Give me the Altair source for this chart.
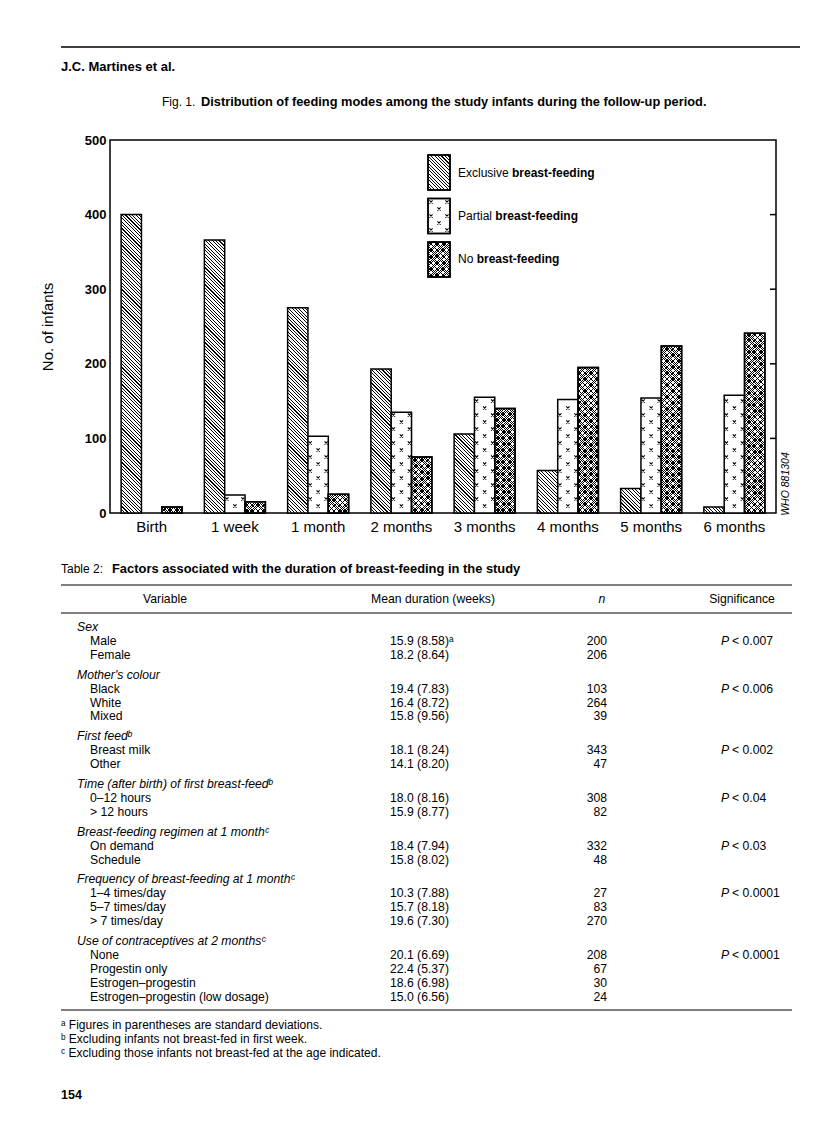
import altair as alt

# ---------------- data ----------------
TIMES = ["Birth", "1 week", "1 month", "2 months", "3 months", "4 months", "5 months", "6 months"]
SERIES = ["Exclusive breast-feeding", "Partial breast-feeding", "No breast-feeding"]
LEGEND_PREFIX = ["Exclusive", "Partial", "No"]
LEGEND_SUFFIX = "breast-feeding"
EXCLUSIVE = [400, 366, 275, 193, 106, 57, 33, 8]
PARTIAL = [0, 24, 103, 135, 155, 152, 154, 158]
NO_BF = [8, 15, 25, 75, 140, 195, 224, 241]
Y_TICKS = [0, 100, 200, 300, 400, 500]
RIGHT_TICKS = [100, 200, 300, 400]

VARIABLES = ["Sex", "Mother's colour", "First feed\u1d47",
             "Time (after birth) of first breast-feed\u1d47",
             "Breast-feeding regimen at 1 month\u1d9c",
             "Frequency of breast-feeding at 1 month\u1d9c",
             "Use of contraceptives at 2 months\u1d9c"]
LEVELS = ["Male", "Female", "Black", "White", "Mixed", "Breast milk", "Other",
          "0\u201312 hours", "> 12 hours", "On demand", "Schedule",
          "1\u20134 times/day", "5\u20137 times/day", "> 7 times/day",
          "None", "Progestin only", "Estrogen\u2013progestin",
          "Estrogen\u2013progestin (low dosage)"]
LEVEL_GROUP = [0, 0, 1, 1, 1, 2, 2, 3, 3, 4, 4, 5, 5, 5, 6, 6, 6, 6]
MEANS = ["15.9 (8.58)\u1d43", "18.2 (8.64)", "19.4 (7.83)", "16.4 (8.72)", "15.8 (9.56)",
         "18.1 (8.24)", "14.1 (8.20)", "18.0 (8.16)", "15.9 (8.77)", "18.4 (7.94)",
         "15.8 (8.02)", "10.3 (7.88)", "15.7 (8.18)", "19.6 (7.30)", "20.1 (6.69)",
         "22.4 (5.37)", "18.6 (6.98)", "15.0 (6.56)"]
NS = [200, 206, 103, 264, 39, 343, 47, 308, 82, 332, 48, 27, 83, 270, 208, 67, 30, 24]
SIGNIFICANCE = ["< 0.007", "< 0.006", "< 0.002", "< 0.04", "< 0.03", "< 0.0001", "< 0.0001"]
FOOTNOTES = ["\u1d43 Figures in parentheses are standard deviations.",
             "\u1d47 Excluding infants not breast-fed in first week.",
             "\u1d9c Excluding those infants not breast-fed at the age indicated."]

# ---------------- layout / style ----------------
FONT = "Liberation Sans"
X0, Y0 = 110, 140          # page position of the plot area
PW, PH = 666, 373
YMAX = 500
PAD_INNER = 0.267
STEP = PW / len(TIMES)
BAR_W = STEP * (1 - PAD_INNER) / 3
PX_PER_UNIT = PH / YMAX


def px(x):
    return x - X0


def py(y):
    return y - Y0


def stripes(w, h, period, frac, direction, dark="#000000", light="#ffffff"):
    """Linear gradient with hard stops that draws 45-degree hatching."""
    n = max(1, int(round((w + h) / period)))
    k = (w + h) / (w * w + h * h)
    if direction == "back":
        g = {"gradient": "linear", "x1": 0, "y1": 1, "x2": k * w, "y2": 1 - k * h}
    else:
        g = {"gradient": "linear", "x1": 0, "y1": 0, "x2": k * w, "y2": k * h}
    stops = []
    for i in range(n):
        a, b, c = i / n, (i + frac) / n, (i + 1) / n
        stops += [{"offset": a, "color": dark}, {"offset": b, "color": dark},
                  {"offset": b, "color": light}, {"offset": c, "color": light}]
    g["stops"] = stops
    return g


CLEAR = "rgba(0,0,0,0)"


def fills(series_index, w, h):
    if series_index == 0:
        return stripes(w, h, 3.4, 0.33, "back"), CLEAR
    if series_index == 1:
        return "#ffffff", CLEAR
    return (stripes(w, h, 2.4, 0.3, "fwd"),
            stripes(w, h, 2.4, 0.3, "back", light=CLEAR))


def cross_path(offsets, r=1.6):
    """SVG path of small x-shaped crosses (symbol size 4 -> 1 unit = 1 px)."""
    parts = []
    for cx, cy in offsets:
        parts.append(f"M{cx - r:.2f},{cy - r:.2f}L{cx + r:.2f},{cy + r:.2f}"
                     f"M{cx + r:.2f},{cy - r:.2f}L{cx - r:.2f},{cy + r:.2f}")
    return "".join(parts)


bar_rows = []
for s_i, (series, vals) in enumerate(zip(SERIES, [EXCLUSIVE, PARTIAL, NO_BF])):
    for t, v in zip(TIMES, vals):
        f1, f2 = fills(s_i, BAR_W, v * PX_PER_UNIT)
        bar_rows.append({"time": t, "series": series, "value": v, "fill": f1, "fill2": f2})

# ---------------- bar chart ----------------
x_scale = alt.Scale(domain=TIMES, paddingInner=PAD_INNER, paddingOuter=PAD_INNER / 2)
xo_scale = alt.Scale(domain=SERIES, paddingInner=0, paddingOuter=0)
y_scale = alt.Scale(domain=[0, YMAX], nice=False, zero=True)
x_axis = alt.Axis(title=None, labelAngle=0, labelFont=FONT, labelFontSize=15,
                  labelColor="black", labelPadding=6, ticks=False, domain=False, grid=False)
y_axis = alt.Axis(values=Y_TICKS, format="d", title="No. of infants", titleFont=FONT,
                  titleFontSize=15, titleFontWeight="normal", titleColor="black",
                  titleX=-63, titleY=PH / 2, titleAngle=270, titleAlign="center",
                  titleBaseline="middle", labelFont=FONT, labelFontSize=13,
                  labelFontWeight="bold", labelColor="black", labelPadding=4,
                  labelFlush=False, labelOverlap=False, ticks=False, domain=False, grid=False)
x_enc = alt.X("time:N", scale=x_scale, axis=x_axis)
xo_enc = alt.XOffset("series:N", scale=xo_scale)

bar_src = alt.Chart(alt.Data(values=bar_rows))
bars = bar_src.transform_filter("datum.value > 0").mark_bar(
    stroke="black", strokeWidth=1.5).encode(
    x=x_enc, xOffset=xo_enc, y=alt.Y("value:Q", scale=y_scale, axis=y_axis),
    fill=alt.Fill("fill:N", scale=None))
bars_overlay = bar_src.transform_filter(
    f"datum.value > 0 && datum.series === '{SERIES[2]}'").mark_bar(
    stroke="black", strokeWidth=1.5).encode(
    x=x_enc, xOffset=xo_enc, y=alt.Y("value:Q", scale=y_scale, axis=y_axis),
    fill=alt.Fill("fill2:N", scale=None))

STEP_U = 14 / PX_PER_UNIT


def cross_layer(start, offsets):
    return bar_src.transform_filter(
        f"datum.value > 0 && datum.series === '{SERIES[1]}'").transform_calculate(
        ys=f"sequence({start:.3f}, datum.value - 2, {STEP_U:.3f})").transform_flatten(
        ["ys"]).mark_point(shape=cross_path(offsets), size=4, filled=False,
                           stroke="black", strokeWidth=1.1, opacity=1).encode(
        x=x_enc, xOffset=xo_enc, y=alt.Y("ys:Q", scale=y_scale, axis=y_axis))


crosses = [cross_layer(STEP_U / 2, [(0, 0)]), cross_layer(STEP_U, [(-8, 0), (8, 0)])]

right_ticks = alt.Chart(alt.Data(values=[{"value": v} for v in RIGHT_TICKS])).mark_rule(
    color="black", strokeWidth=1.5).encode(
    y=alt.Y("value:Q", scale=y_scale, axis=y_axis), x=alt.value(PW - 6), x2=alt.value(PW))

bar_group = alt.layer(bars, bars_overlay, *crosses, right_ticks)

# ---------------- legend ----------------
LEG_W, LEG_H = 22, 35
legend_rows = []
for i, s in enumerate(SERIES):
    f1, f2 = fills(i, LEG_W, LEG_H)
    legend_rows.append({"series": s, "prefix": LEGEND_PREFIX[i], "suffix": LEGEND_SUFFIX,
                        "fill": f1, "fill2": f2})
PREFIX_W = [54.0, 37.3, 18.7]
leg_y = alt.Y("series:N", scale=alt.Scale(domain=SERIES, range=[15, 137],
                                          paddingInner=0.195, paddingOuter=0), axis=None)
leg_src = alt.Chart(alt.Data(values=legend_rows))
LEG_CROSSES = [(-8, -14), (8, -14), (0, -7), (-8, 0), (8, 0), (0, 7), (-8, 14), (8, 14)]
leg_layers = [
    leg_src.mark_rect(stroke="black", strokeWidth=1.5).encode(
        x=alt.value(px(428)), x2=alt.value(px(450)), y=leg_y, fill=alt.Fill("fill:N", scale=None)),
    leg_src.mark_rect(stroke="black", strokeWidth=1.5).encode(
        x=alt.value(px(428)), x2=alt.value(px(450)), y=leg_y, fill=alt.Fill("fill2:N", scale=None)),
    leg_src.transform_filter(f"datum.series === '{SERIES[1]}'").mark_point(
        shape=cross_path(LEG_CROSSES), size=4, filled=False, stroke="black",
        strokeWidth=1.1, opacity=1).encode(x=alt.value(px(439)), y=leg_y),
    leg_src.mark_text(align="left", baseline="middle", font=FONT, fontSize=12, color="black").encode(
        x=alt.value(px(458)), y=leg_y, text="prefix:N"),
]
for i, s in enumerate(SERIES):
    leg_layers.append(leg_src.transform_filter(f"datum.series === '{s}'").mark_text(
        align="left", baseline="middle", font=FONT, fontSize=12, fontWeight="bold",
        color="black").encode(x=alt.value(px(458) + PREFIX_W[i]), y=leg_y, text="suffix:N"))
legend = alt.layer(*leg_layers)


# ---------------- page text helpers ----------------
def txt(text, x, y, size=12.2, weight="normal", style="normal", align="left", angle=0):
    return alt.Chart(alt.Data(values=[{"t": text}])).mark_text(
        font=FONT, fontSize=size, fontWeight=weight, fontStyle=style, align=align,
        baseline="middle", color="black", angle=angle).encode(
        x=alt.value(px(x)), y=alt.value(py(y)), text="t:N")


def hrule(x1, x2, y, w=1.2):
    return alt.Chart(alt.Data(values=[{"k": 0}])).mark_rule(color="black", strokeWidth=w).encode(
        x=alt.value(px(x1)), x2=alt.value(px(x2)), y=alt.value(py(y)))


page_items = [
    hrule(61, 800, 47, 1.6),
    txt("J.C. Martines et al.", 61, 67, size=13, weight="bold"),
    txt("Fig. 1.", 162, 102, size=12),
    txt("Distribution of feeding modes among the study infants during the follow-up period.",
        201, 102, size=12.8, weight="bold"),
    txt("WHO  881304", 786, 484, size=10.5, style="italic", align="center", angle=270),
    txt("Table 2:", 61, 569, size=12),
    txt("Factors associated with the duration of breast-feeding in the study", 112, 569,
        size=12.9, weight="bold"),
    hrule(61, 792, 585),
    txt("Variable", 165, 599, align="center"),
    txt("Mean duration (weeks)", 433, 599, align="center"),
    txt("n", 602, 599, style="italic", align="center"),
    txt("Significance", 742, 599, align="center"),
    hrule(61, 792, 613),
    hrule(61, 792, 1010),
    txt(FOOTNOTES[0], 61, 1025, size=12),
    txt(FOOTNOTES[1], 61, 1039, size=12),
    txt(FOOTNOTES[2], 61, 1053, size=12),
    txt("154", 61, 1095, size=12.5, weight="bold"),
]

# ---------------- table body ----------------
head_rows, item_rows = [], []
r = 0
for g, var in enumerate(VARIABLES):
    head_rows.append({"label": var, "r": r, "g": g})
    r += 1
    first = True
    for i, lev in enumerate(LEVELS):
        if LEVEL_GROUP[i] != g:
            continue
        item_rows.append({"label": lev, "mean": MEANS[i], "n": str(NS[i]),
                          "p": "P" if first else "", "sig": SIGNIFICANCE[g] if first else "",
                          "r": r, "g": g})
        r += 1
        first = False
N_ROWS = r - 1
ROW_H, GROUP_GAP = 13.9, 6
pos_y = alt.Y("pos:Q", scale=alt.Scale(domain=[0, N_ROWS], range=[py(627), py(627) + N_ROWS * ROW_H],
                                       nice=False, zero=False), axis=None)
pos_calc = f"datum.r + datum.g * {GROUP_GAP / ROW_H:.4f}"


def col(rows, field, x, align="left", style="normal"):
    return alt.Chart(alt.Data(values=rows)).transform_calculate(pos=pos_calc).mark_text(
        font=FONT, fontSize=12.2, fontStyle=style, align=align, baseline="middle",
        color="black").encode(x=alt.value(px(x)), y=pos_y, text=f"{field}:N")


table = alt.layer(
    col(head_rows, "label", 77, style="italic"),
    col(item_rows, "label", 90),
    col(item_rows, "mean", 390),
    col(item_rows, "n", 607, align="right"),
    col(item_rows, "p", 721, style="italic"),
    col(item_rows, "sig", 732),
)

chart = alt.layer(bar_group, legend, table, *page_items).resolve_scale(
    x="independent", y="independent").properties(
    width=PW, height=PH,
    padding={"left": X0 - 8, "top": Y0 - 8, "right": 800 - (X0 - 8) - PW,
             "bottom": 1118 - (Y0 - 8) - PH},
    autosize=alt.AutoSizeParams(type="none"),
    background="white",
).configure_view(stroke="black", strokeWidth=1.5)

chart.save("out.html", embed_options={"renderer": "svg", "actions": False})
